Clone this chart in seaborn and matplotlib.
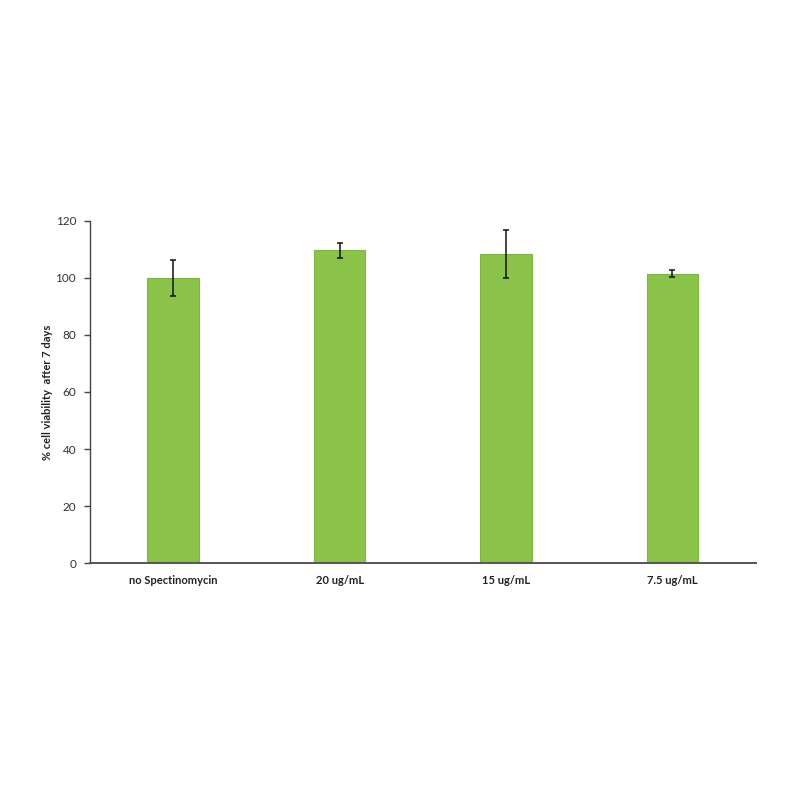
import numpy as np
import pandas as pd
import matplotlib
matplotlib.use("Agg")
import matplotlib.pyplot as plt
import seaborn as sns

# valeurs
conditions = ["no Spectinomycin", "20 ug/mL", "15 ug/mL", "7.5 ug/mL"]
viability = [100.0, 109.6, 108.3, 101.5]
sd = [6.2, 2.5, 8.4, 1.1]

df = pd.DataFrame({"condition": conditions, "viability": viability, "sd": sd})

sns.set_style("white")
plt.rcParams['font.family'] = ['Lato', 'DejaVu Sans']

fig = plt.figure(figsize=(8, 8), dpi=100)
ax = fig.add_axes([0.1125, 0.296, 0.832, 0.428])

sns.barplot(data=df, x="condition", y="viability", color="#8BC34A",
            edgecolor="#7DB443", linewidth=0.8, width=0.31, errorbar=None,
            saturation=1, ax=ax)
ax.errorbar(np.arange(len(df)), df["viability"], yerr=df["sd"], fmt="none",
            ecolor="#111111", elinewidth=1.1, capsize=2, capthick=1.1)

ax.set_xlim(-0.5, 3.5)
ax.set_ylim(0, 120)
ax.set_yticks(range(0, 121, 20))
ax.set_xlabel("")
ax.set_ylabel("% cell viability  after 7 days", fontsize=8, fontweight="bold",
              color="#222222", labelpad=2)

for s in ["top", "right"]:
    ax.spines[s].set_visible(False)
ax.spines["left"].set_color("#444444")
ax.spines["left"].set_linewidth(1.0)
ax.spines["bottom"].set_color("#555555")
ax.spines["bottom"].set_linewidth(1.4)

ax.tick_params(axis="y", left=True, length=4, width=1, color="#444444",
               labelsize=8.5, labelcolor="#333333", pad=6)
ax.tick_params(axis="x", bottom=False, labelsize=8, labelcolor="#222222", pad=5)
for lab in ax.get_xticklabels():
    lab.set_fontweight("bold")

fig.savefig("out.png", dpi=100, facecolor="white")
